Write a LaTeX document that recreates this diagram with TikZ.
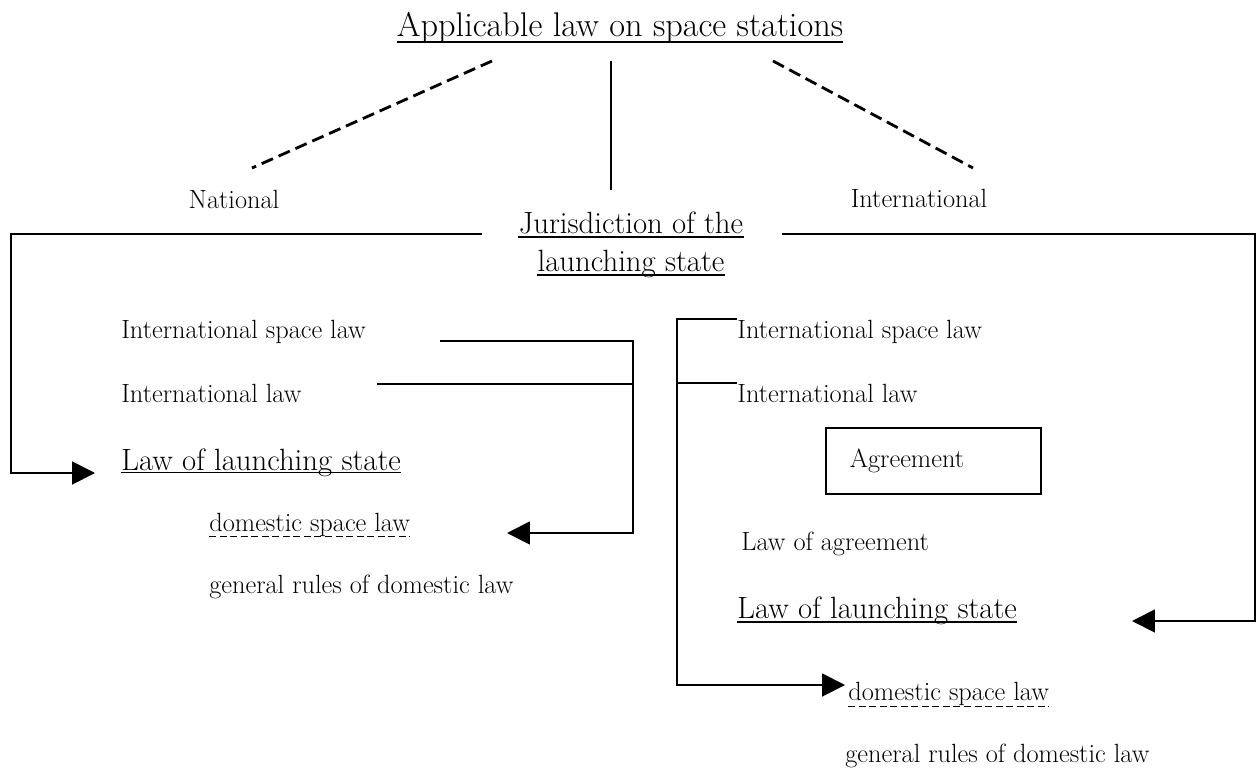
\documentclass[tikz,border=0pt]{standalone}
\usepackage{tikz}
\usetikzlibrary{positioning,arrows.meta,calc}

\begin{document}
\begin{tikzpicture}[x=0.02cm,y=-0.02cm,
    conn/.style={line width=1.1pt},
    arr/.style={-{Triangle[length=13pt,width=13pt]}},
    dashln/.style={line width=1.6pt,dash pattern=on 7pt off 3.5pt},
    uline/.style={line width=0.8pt},
    duline/.style={line width=0.7pt,dash pattern=on 4pt off 2pt},
    txt/.style={font=\fontsize{15}{18}\selectfont, inner sep=0pt},
    big/.style={font=\fontsize{17.5}{21}\selectfont, inner sep=0pt}]
    \useasboundingbox (0,0) rectangle (1256,773);

    % top of the tree
    \node[font=\fontsize{19.5}{23}\selectfont, inner sep=0pt, anchor=base] (title) at (620,37) {Applicable law on space stations};
    \node[txt, anchor=base] (nat) at (234,209) {National};
    \node[txt, anchor=base] (intl) at (919,208) {International};
    \node[big, anchor=base] (jura) at (631,234) {Jurisdiction of the};
    \node[big, anchor=base] (jurb) at (631,272) {launching state};

    \coordinate (dl1) at (492,61);
    \coordinate (dl2) at (252,168);
    \coordinate (dr1) at (773,61);
    \coordinate (dr2) at (973,168);
    \coordinate (vt) at (611,61);
    \coordinate (vb) at (611,190);
    \draw[dashln] (dl1) -- (dl2);
    \draw[dashln] (dr1) -- (dr2);
    \draw[conn] (vt) -- (vb);

    % left branch
    \node[txt, anchor=base west] (lisl) at (121,338) {International space law};
    \node[txt, anchor=base west] (lil) at (121,402) {International law};
    \node[big, anchor=base west] (lls) at (121,470) {Law of launching state};
    \node[txt, anchor=base west] (ldsl) at (209,531) {domestic space law};
    \node[txt, anchor=base west] (lgr) at (209,593) {general rules of domestic law};

    \coordinate (jl) at (482,234);
    \coordinate (ledge) at (11,234);
    \coordinate (ltip) at (95,473);
    \coordinate (li1) at (440,341);
    \coordinate (li2) at (377,384);
    \coordinate (lbus) at (633,341);
    \coordinate (ltip2) at (507,533);
    \draw[conn, arr] (jl) -- (ledge) |- (ltip);
    \draw[conn, arr] (li1) -- (lbus) |- (ltip2);
    \draw[conn] (li2) -- (li2 -| lbus);

    % right branch
    \node[txt, anchor=base west] (risl) at (737,338) {International space law};
    \node[txt, anchor=base west] (ril) at (737,402) {International law};
    \node[txt, draw, line width=1.1pt, anchor=north west, minimum height=1.32cm,
          text width=95pt, inner xsep=13.6pt, align=left] (agr) at (825,427) {Agreement};
    \node[txt, anchor=base west] (rla) at (741,550) {Law of agreement};
    \node[big, anchor=base west] (rls) at (737,618) {Law of launching state};
    \node[txt, anchor=base west] (rdsl) at (848,700) {domestic space law};
    \node[txt, anchor=base west] (rgr) at (845,762) {general rules of domestic law};

    \coordinate (rbus) at (677,320);
    \coordinate (jr) at (782,234);
    \coordinate (redge) at (1255,234);
    \coordinate (rtip) at (1132,621);
    \coordinate (rtip2) at (845,685);
    \draw[conn, arr] (risl.north west) -| (rtip2 -| rbus) -- (rtip2);
    \draw[conn] (ril.north west) -- (ril.north west -| rbus);
    \draw[conn, arr] (jr) -- (redge) |- (rtip);

    % underlines
    \foreach \n/\d in {title/2.8pt, jura/1.8pt, jurb/1.8pt, lls/1.5pt, rls/2.2pt}
        \draw[uline] ([yshift=-\d]\n.base west) -- ([yshift=-\d]\n.base east);
    \foreach \n/\d in {ldsl/3.3pt, rdsl/3.8pt}
        \draw[duline] ([yshift=-\d]\n.base west) -- ([yshift=-\d]\n.base east);
\end{tikzpicture}
\end{document}
